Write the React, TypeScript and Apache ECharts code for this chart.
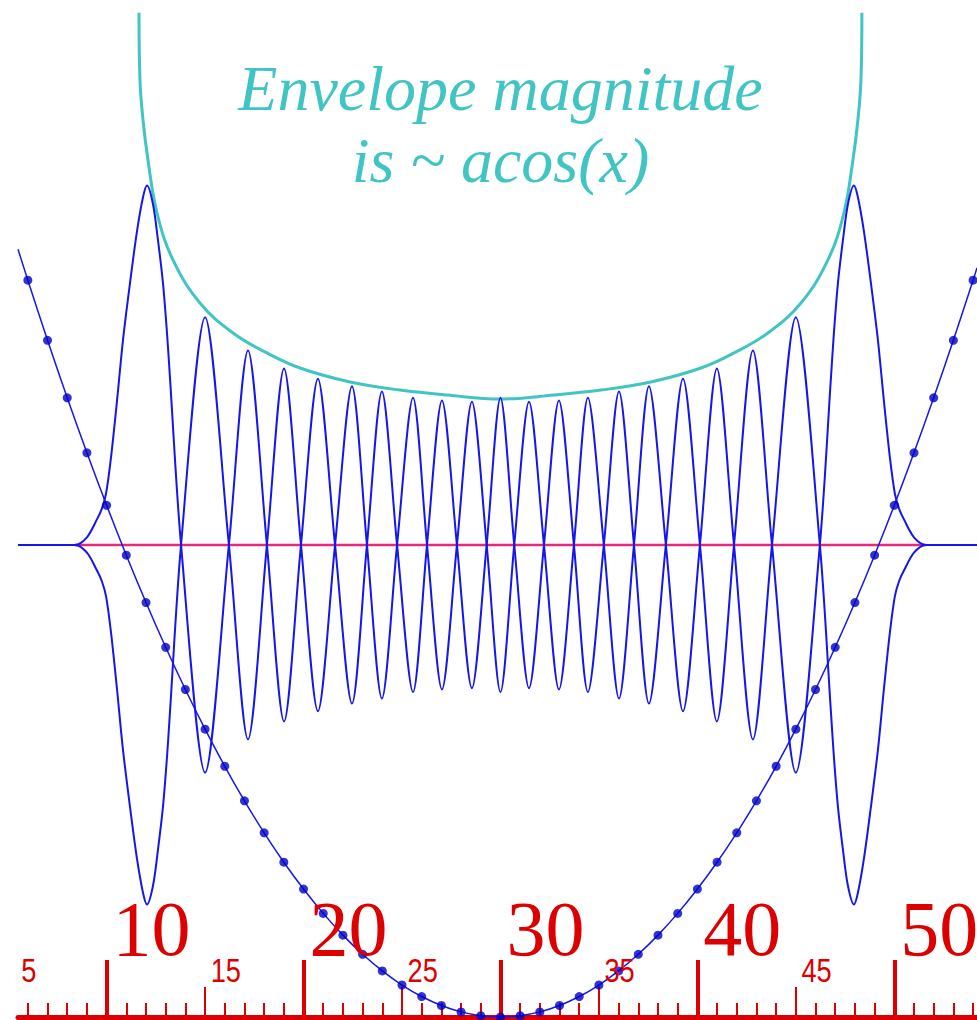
import React, { useEffect, useRef } from "react";
import * as echarts from "echarts";

// Horizontal scale of the ruler and vertical energy scale
const X_MIN = 5.5;
const X_MAX = 54.2;
const Y_MIN = 0;
const Y_MAX = 795;
const CENTER = 30;

// Ruler ticks and labels
const majorTicks = [10, 20, 30, 40, 50];
const midTicks = [15, 25, 35, 45];
const minorTicks = [
  6, 7, 8, 9, 11, 12, 13, 14, 16, 17, 18, 19, 21, 22, 23, 24, 26, 27, 28, 29,
  31, 32, 33, 34, 36, 37, 38, 39, 41, 42, 43, 44, 46, 47, 48, 49, 51, 52, 53, 54,
];
const majorLabels = [10, 20, 30, 40, 50];
const minorLabels = [5, 15, 25, 35, 45];

// Energy level of the state
const energyLevel = 369;
const energyStart = 8.39;
const energyEnd = 51.61;

// Potential well samples (dotted parabola)
const wellX = [
  6, 7, 8, 9, 10, 11, 12, 13, 14, 15, 16, 17, 18, 19, 20, 21, 22, 23, 24, 25, 26, 27, 28, 29, 30,
  31, 32, 33, 34, 35, 36, 37, 38, 39, 40, 41, 42, 43, 44, 45, 46, 47, 48, 49, 50, 51, 52, 53, 54,
];
const wellY = [
  576, 529, 484, 441, 400, 361, 324, 289, 256, 225, 196, 169, 144, 121, 100, 81, 64, 49, 36, 25, 16, 9, 4, 1, 0,
  1, 4, 9, 16, 25, 36, 49, 64, 81, 100, 121, 144, 169, 196, 225, 256, 289, 324, 361, 400, 441, 484, 529, 576,
];
const wellEnds = [
  [5.5, 600.2],
  [54.2, 585.6],
];

// Wavefunction, left half up to the centre (offset from the energy level)
const waveX = [
  5.5, 8.39, 9.0, 9.51, 9.75, 9.97, 10.22, 10.53, 10.83, 11.19, 11.54, 11.85, 12.05, 12.36, 12.61,
  12.86, 13.07, 13.22, 13.78, 15.0, 16.21, 17.18, 18.14, 19.01, 19.87, 20.73, 21.6, 22.46, 23.22,
  23.98, 24.75, 25.56, 26.27, 27.03, 27.79, 28.55, 29.3, 30,
];
const waveAmp = [
  0, 0, 6, 20, 28, 40, 68, 113, 160, 205, 245, 272, 281, 266, 238,
  205, 165, 130, 0, -178, 0, 152, 0, -138, 0, 130, 0, -124, 0,
  120, 0, -115, 0, 113, 0, -112, 0, 115,
];

// Envelope curve, left half
const envX = [11.645, 11.695, 11.85, 12.1, 12.56, 13.37, 14.74, 16.42, 18.14, 19.82, 22.36, 24.9, 27.29, 30];
const envY = [785, 732, 701, 670, 628.5, 591.8, 558.2, 534.7, 519.1, 507.3, 496.4, 490.1, 486.2, 483.1];

const RED = "#dc0000";
const BLUE = "#1515ee";
const DOT = "#0000c8";
const PINK = "#e8287c";
const CYAN = "#40c4c4";

function mirrored(xs: number[], ys: number[]): number[][] {
  const left = xs.map((x, i) => [x, ys[i]]);
  const right = left
    .filter(([x]) => x < CENTER)
    .map(([x, y]) => [2 * CENTER - x, y])
    .reverse();
  return left.concat(right);
}

export default function App() {
  const ref = useRef<HTMLDivElement>(null);

  useEffect(() => {
    const chart = echarts.init(ref.current!, null, { renderer: "svg" });

    const wave = mirrored(waveX, waveAmp);
    const psiUp = wave.map(([x, a]) => [x, energyLevel + a]);
    const psiDown = wave.map(([x, a]) => [x, energyLevel - a]);
    const envelope = mirrored(envX, envY);
    const well = [wellEnds[0] as number[]]
      .concat(wellX.map((x, i) => [x, wellY[i]]))
      .concat([wellEnds[1] as number[]]);
    const wellDots = wellX.map((x, i) => [x, wellY[i]]);

    const rulerAxis = (values: number[], len: number, width: number, showLine: boolean) => ({
      type: "value",
      gridIndex: 0,
      position: "bottom",
      offset: 0,
      min: X_MIN,
      max: X_MAX,
      axisLine: { show: showLine, onZero: false, lineStyle: { color: RED, width: 5 } },
      axisTick: {
        show: true,
        inside: true,
        length: len,
        customValues: values,
        lineStyle: { color: RED, width },
      },
      axisLabel: { show: false },
      splitLine: { show: false },
    });

    chart.setOption({
      animation: false,
      backgroundColor: "#ffffff",
      grid: { left: 18, right: 0, top: 0, bottom: 3 },
      xAxis: [
        rulerAxis(minorTicks, 14, 2, true),
        rulerAxis(midTicks, 30, 2, false),
        rulerAxis(majorTicks, 57, 4, false),
      ],
      yAxis: {
        type: "value",
        min: Y_MIN,
        max: Y_MAX,
        show: false,
        splitLine: { show: false },
      },
      series: [
        {
          name: "energy",
          type: "line",
          data: [
            [energyStart, energyLevel],
            [energyEnd, energyLevel],
          ],
          symbol: "none",
          lineStyle: { color: PINK, width: 2.5 },
          z: 1,
        },
        {
          name: "envelope",
          type: "line",
          data: envelope,
          smooth: 0.4,
          symbol: "none",
          lineStyle: { color: CYAN, width: 3 },
          z: 2,
        },
        {
          name: "psi",
          type: "line",
          data: psiUp,
          smooth: 0.3,
          symbol: "none",
          lineStyle: { color: BLUE, width: 2 },
          z: 3,
        },
        {
          name: "-psi",
          type: "line",
          data: psiDown,
          smooth: 0.3,
          symbol: "none",
          lineStyle: { color: BLUE, width: 2 },
          z: 3,
        },
        {
          name: "well",
          type: "line",
          data: well,
          smooth: 0.4,
          symbol: "none",
          lineStyle: { color: BLUE, width: 1.5 },
          z: 4,
        },
        {
          name: "well samples",
          type: "scatter",
          data: wellDots,
          symbol: "circle",
          symbolSize: 9,
          itemStyle: { color: DOT },
          z: 5,
        },
      ],
    });

    const px = (v: number) => chart.convertToPixel({ xAxisIndex: 0 }, v) as number;

    const graphic: any[] = [];
    majorLabels.forEach((v) => {
      graphic.push({
        type: "text",
        x: px(v) + 45,
        y: 928,
        z: 10,
        style: {
          text: String(v),
          fill: RED,
          font: "78px 'Liberation Serif', serif",
          textAlign: "center",
          verticalAlign: "middle",
        },
      });
    });
    minorLabels.forEach((v) => {
      graphic.push({
        type: "text",
        x: px(v + 1) + 1,
        y: 970,
        scaleX: 0.8,
        z: 10,
        style: {
          text: String(v),
          fill: RED,
          font: "34px 'Liberation Sans', sans-serif",
          textAlign: "center",
          verticalAlign: "middle",
        },
      });
    });
    const cx = px(CENTER);
    graphic.push(
      {
        type: "text",
        x: cx,
        y: 88,
        z: 10,
        style: {
          text: "Envelope magnitude",
          fill: CYAN,
          font: "italic 64px 'Liberation Serif', serif",
          textAlign: "center",
          verticalAlign: "middle",
        },
      },
      {
        type: "text",
        x: cx,
        y: 160,
        z: 10,
        style: {
          text: "is ~ acos(x)",
          fill: CYAN,
          font: "italic 64px 'Liberation Serif', serif",
          textAlign: "center",
          verticalAlign: "middle",
        },
      }
    );
    chart.setOption({ graphic });

    return () => chart.dispose();
  }, []);

  return (
    <div
      ref={ref}
      style={{ position: "absolute", left: 0, top: 0, width: 977, height: 1020 }}
    />
  );
}
